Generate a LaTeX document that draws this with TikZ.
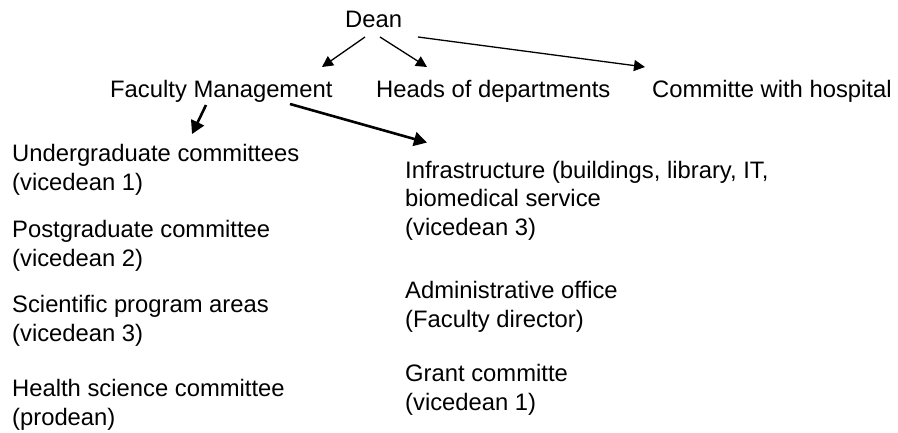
\documentclass[tikz,border=0pt]{standalone}
\usepackage{fontspec}
\setmainfont{Liberation Sans}
\usetikzlibrary{arrows.meta}
\newcommand{\orgfontsize}{\fontsize{23.8}{28.5}\selectfont}
\tikzset{orgtext/.style={anchor=base west, inner sep=0pt, align=left, font=\orgfontsize}}
\tikzset{deanarr/.style={line width=1.3pt, -{Triangle[length=11pt, width=11pt]}}}
\tikzset{fmarr/.style={line width=2.6pt, -{Triangle[length=13pt, width=14pt]}}}

\begin{document}
\begin{tikzpicture}[x=1pt, y=-1pt]

\useasboundingbox (0,0) rectangle (898,432);

\node[orgtext] (dean) at (345,27) {Dean};

\node[orgtext] (fm) at (110,97) {Faculty Management};
\node[orgtext] (heads) at (376,97) {Heads of departments};
\node[orgtext] (hosp) at (652,97) {Committe with hospital};

% multi-line nodes sit on the baseline of their last line
\node[orgtext] (ug) at (12,190) {Undergraduate committees\\(vicedean 1)};
\node[orgtext] (pg) at (12,266) {Postgraduate committee\\(vicedean 2)};
\node[orgtext] (sci) at (12,341) {Scientific program areas\\(vicedean 3)};
\node[orgtext] (health) at (12,425) {Health science committee\\(prodean)};

\node[orgtext] (infra) at (405,235) {Infrastructure (buildings, library, IT,\\biomedical service\\(vicedean 3)};
\node[orgtext] (admin) at (405,327) {Administrative office\\(Faculty director)};
\node[orgtext] (grant) at (405,410) {Grant committe\\(vicedean 1)};

\draw[deanarr] ([xshift=20pt, yshift=-10pt]dean.base west) -- ([xshift=212pt, yshift=30pt]fm.base west);
\draw[deanarr] ([xshift=35pt, yshift=-10pt]dean.base west) -- ([xshift=51pt, yshift=30pt]heads.base west);
\draw[deanarr] ([xshift=73pt, yshift=-10pt]dean.base west) -- ([xshift=-7pt, yshift=30pt]hosp.base west);

\draw[fmarr] ([xshift=96pt, yshift=-8pt]fm.base west) -- ([xshift=180pt, yshift=10pt]ug.north west);
\draw[fmarr] ([xshift=180pt, yshift=-7pt]fm.base west) -- ([xshift=22pt, yshift=18pt]infra.north west);

\end{tikzpicture}
\end{document}
